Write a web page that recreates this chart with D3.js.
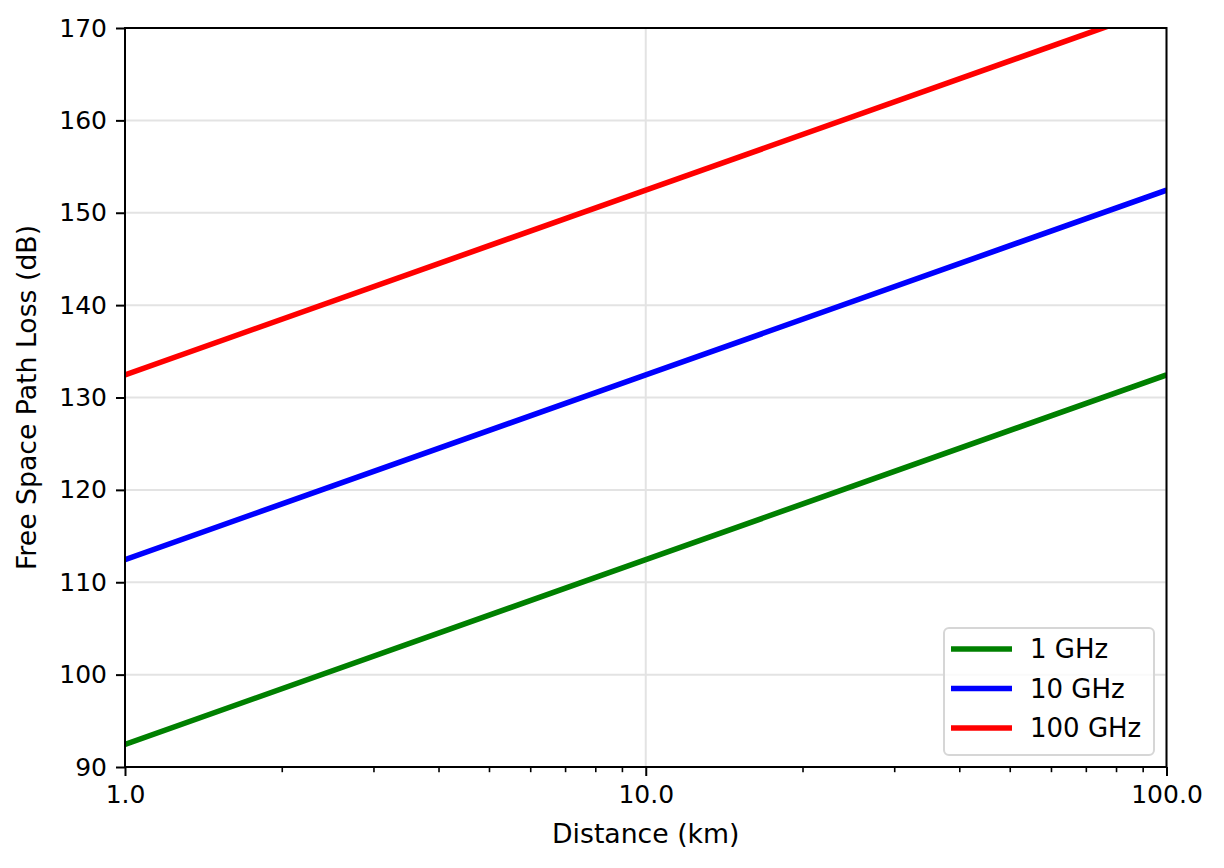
<!DOCTYPE html>
<html>
<head>
<meta charset="utf-8">
<script src="https://cdn.jsdelivr.net/npm/d3@7"></script>
<style>
  body { margin: 0; background: #fff; }
  svg { display: block; font-family: "DejaVu Sans", sans-serif; }
</style>
</head>
<body>
<svg width="1224" height="868"></svg>
<script>
// distances (km) and path loss values (dB)
const distances = [1, 10, 100];
const loss1GHz = [92.45, 112.45, 132.45];
const loss10GHz = [112.45, 132.45, 152.45];
const loss100GHz = [132.45, 152.45, 172.45];
const seriesNames = ["1 GHz", "10 GHz", "100 GHz"];
const seriesColors = ["#008000", "#0000ff", "#ff0000"];
const yTicks = [90, 100, 110, 120, 130, 140, 150, 160, 170];
const xTicks = [1, 10, 100];

const series = [loss1GHz, loss10GHz, loss100GHz].map((v, i) => ({
  name: seriesNames[i],
  color: seriesColors[i],
  points: distances.map((d, j) => [d, v[j]])
}));

let svg = d3.select("svg");
const m = {left: 125, right: 1166.5, top: 28, bottom: 767};

let x = d3.scaleLog().domain([1, 100]).range([m.left, m.right]);
let y = d3.scaleLinear().domain([90, 170]).range([m.bottom, m.top]);

// grid
svg.append("g").selectAll("line")
  .data(yTicks)
  .enter().append("line")
    .attr("x1", m.left).attr("x2", m.right)
    .attr("y1", d => y(d)).attr("y2", d => y(d))
    .attr("stroke", "#e3e3e3").attr("stroke-width", 2);
svg.append("g").selectAll("line")
  .data(xTicks)
  .enter().append("line")
    .attr("x1", d => x(d)).attr("x2", d => x(d))
    .attr("y1", m.top).attr("y2", m.bottom)
    .attr("stroke", "#e3e3e3").attr("stroke-width", 2);

svg.append("clipPath").attr("id", "plot-clip")
  .append("rect")
    .attr("x", m.left).attr("y", m.top)
    .attr("width", m.right - m.left).attr("height", m.bottom - m.top);

let line = d3.line().x(d => x(d[0])).y(d => y(d[1]));

svg.append("g").attr("clip-path", "url(#plot-clip)")
  .selectAll("path")
  .data(series)
  .enter().append("path")
    .attr("d", d => line(d.points))
    .attr("fill", "none")
    .attr("stroke", d => d.color)
    .attr("stroke-width", 5.6);

// axes
let xAxis = svg.append("g")
  .attr("transform", "translate(0," + m.bottom + ")")
  .call(d3.axisBottom(x).tickValues(xTicks).tickFormat(d3.format(".1f")).tickSize(9).tickPadding(9));
let minor = x.ticks().filter(d => !xTicks.includes(d));
svg.append("g")
  .attr("transform", "translate(0," + m.bottom + ")")
  .call(d3.axisBottom(x).tickValues(minor).tickFormat("").tickSize(5.2))
  .call(g => g.select(".domain").remove())
  .selectAll("line").attr("stroke-width", 1.6);

let yAxis = svg.append("g")
  .attr("transform", "translate(" + m.left + ",0)")
  .call(d3.axisLeft(y).tickValues(yTicks).tickSize(9).tickPadding(9));

[xAxis, yAxis].forEach(g => {
  g.select(".domain").remove();
  g.selectAll("line").attr("stroke", "#000").attr("stroke-width", 2);
  g.selectAll("text").attr("font-size", 25).attr("fill", "#000")
    .attr("font-family", "DejaVu Sans");
});

// frame
svg.append("rect")
  .attr("x", m.left).attr("y", m.top)
  .attr("width", m.right - m.left).attr("height", m.bottom - m.top)
  .attr("fill", "none").attr("stroke", "#000").attr("stroke-width", 2);

svg.append("text")
  .attr("x", (m.left + m.right) / 2).attr("y", 843)
  .attr("text-anchor", "middle").attr("font-size", 26.7)
  .text("Distance (km)");

svg.append("text")
  .attr("transform", "translate(36," + (m.top + m.bottom) / 2 + ") rotate(-90)")
  .attr("text-anchor", "middle").attr("font-size", 26.7)
  .text("Free Space Path Loss (dB)");

// legend
let legend = svg.append("g");
legend.append("rect")
  .attr("x", 944).attr("y", 628).attr("width", 210).attr("height", 127)
  .attr("rx", 5).attr("fill", "#fff").attr("fill-opacity", 0.8)
  .attr("stroke", "#d6d6d6").attr("stroke-width", 2);
let item = legend.selectAll("g.item")
  .data(series)
  .enter().append("g")
    .attr("class", "item")
    .attr("transform", (d, i) => "translate(0," + (649 + i * 39.5) + ")");
item.append("line")
  .attr("x1", 951).attr("x2", 1012)
  .attr("stroke", d => d.color).attr("stroke-width", 5.6);
item.append("text")
  .attr("x", 1030).attr("dy", "0.35em")
  .attr("font-size", 26)
  .text(d => d.name);
</script>
</body>
</html>
